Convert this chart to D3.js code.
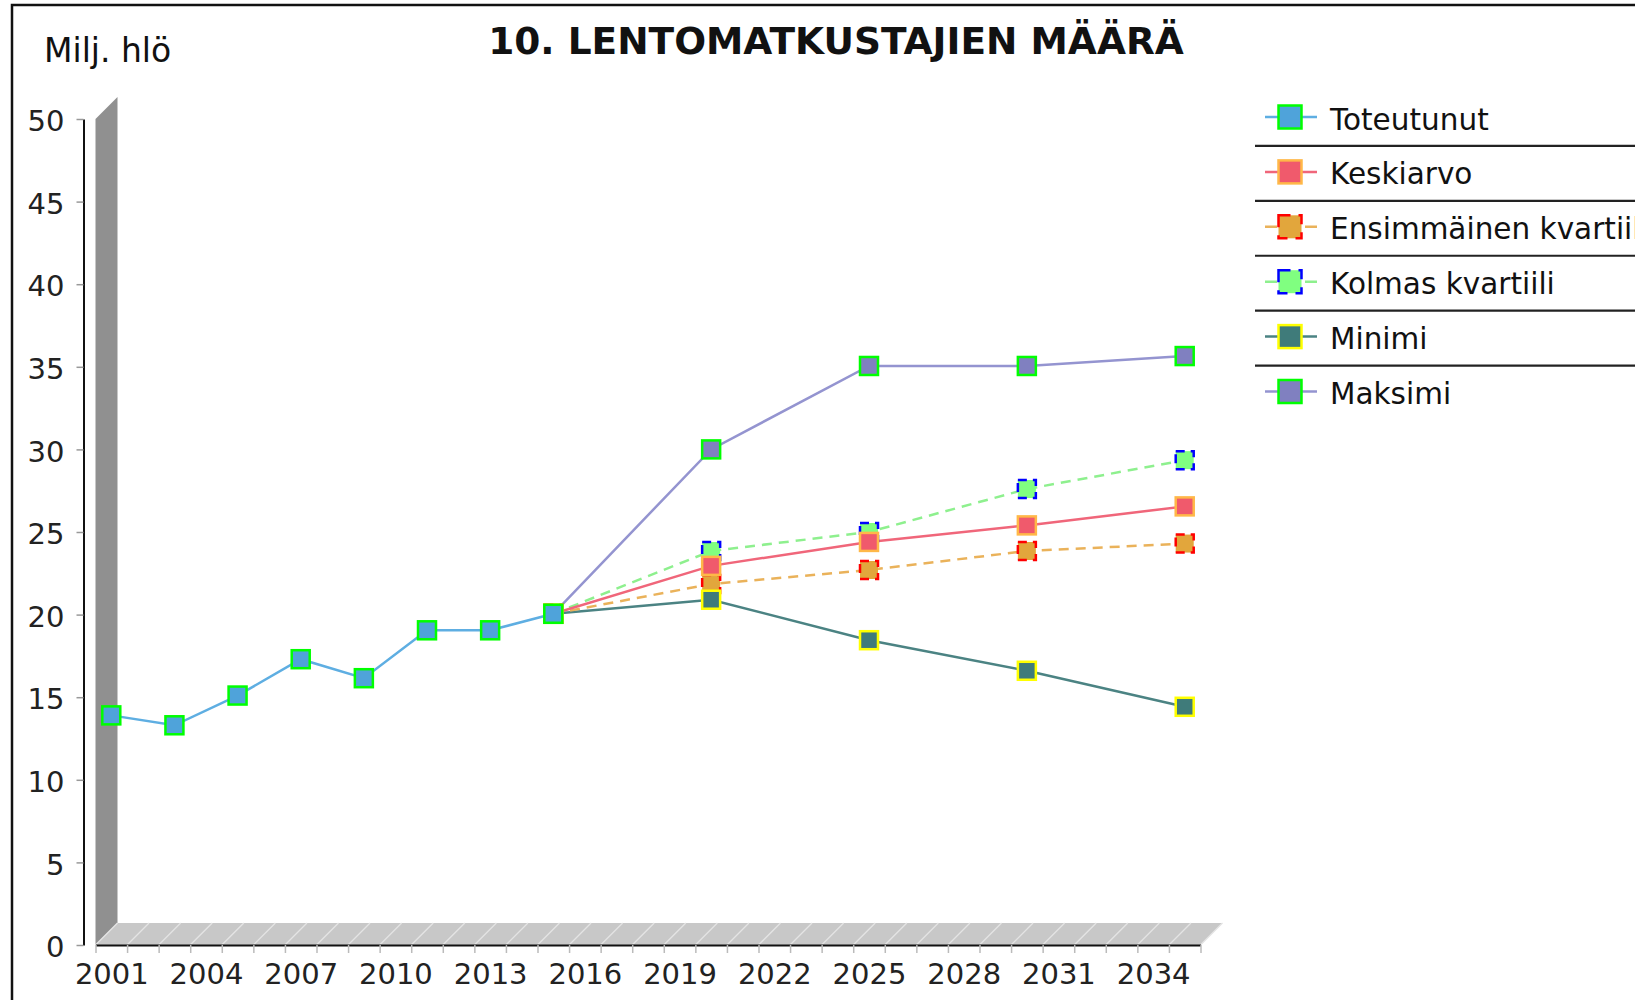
<!DOCTYPE html>
<html><head><meta charset="utf-8">
<script src="https://cdn.jsdelivr.net/npm/d3@7"></script>
<style>
body{margin:0;background:#fff}
text{font-family:"DejaVu Sans",sans-serif}
</style>
</head><body>
<svg id="c" width="1635" height="1000"></svg>
<script>
// ---- data ----
const historyYears = [2001, 2003, 2005, 2007, 2009, 2011, 2013, 2015];
const toteutunut   = [13.9, 13.3, 15.1, 17.3, 16.15, 19.05, 19.05, 20.05];
const forecastYears = [2015, 2020, 2025, 2030, 2035];
const keskiarvo    = [20.05, 22.95, 24.4, 25.4, 26.55];
const ensimmainen  = [20.05, 21.85, 22.7, 23.85, 24.3];
const kolmas       = [20.05, 23.85, 25.0, 27.6, 29.35];
const minimi       = [20.05, 20.9, 18.45, 16.6, 14.42];
const maksimi      = [20.05, 30.0, 35.05, 35.05, 35.65];
const xTickLabels  = [2001, 2004, 2007, 2010, 2013, 2016, 2019, 2022, 2025, 2028, 2031, 2034];
const yTickValues  = [0, 5, 10, 15, 20, 25, 30, 35, 40, 45, 50];
const seriesNames  = ["Toteutunut", "Keskiarvo", "Ensimmäinen kvartiili", "Kolmas kvartiili", "Minimi", "Maksimi"];

const styles = {
  "Toteutunut":            {fill:"#4fa3da", stroke:"#00ff00", line:"#5eaee2", dash:null},
  "Keskiarvo":             {fill:"#f05a6c", stroke:"#ffb848", line:"#f0667a", dash:null},
  "Ensimmäinen kvartiili": {fill:"#e2a63c", stroke:"#ff0000", line:"#eab25a", dash:"10,7"},
  "Kolmas kvartiili":      {fill:"#80ff80", stroke:"#0000ff", line:"#8ef08e", dash:"10,7"},
  "Minimi":                {fill:"#3f7b7a", stroke:"#ffff00", line:"#4b8383", dash:null},
  "Maksimi":               {fill:"#8080c0", stroke:"#00ff00", line:"#9494d0", dash:null}
};
const seriesData = {
  "Toteutunut": historyYears.map((y,i)=>({year:y, v:toteutunut[i]})),
  "Keskiarvo": forecastYears.map((y,i)=>({year:y, v:keskiarvo[i]})),
  "Ensimmäinen kvartiili": forecastYears.map((y,i)=>({year:y, v:ensimmainen[i]})),
  "Kolmas kvartiili": forecastYears.map((y,i)=>({year:y, v:kolmas[i]})),
  "Minimi": forecastYears.map((y,i)=>({year:y, v:minimi[i]})),
  "Maksimi": forecastYears.map((y,i)=>({year:y, v:maksimi[i]}))
};

const svg = d3.select("#c");
svg.append("rect").attr("width",1635).attr("height",1000).attr("fill","#fff");
// outer border
svg.append("rect").attr("x",12).attr("y",5).attr("width",1700).attr("height",1100)
  .attr("fill","none").attr("stroke","#111").attr("stroke-width",2.5);

const x = d3.scaleLinear().domain([2000.5, 2035.5]).range([95.5, 1200.5]);
const y = d3.scaleLinear().domain([0, 50]).range([945, 119]);
const depth = 22;

// 3D wall
const x0 = x.range()[0], x1 = x.range()[1], yb = y(0), yt = y(50);
svg.append("path")
  .attr("d", `M${x0},${yb}L${x0},${yt}L${x0+depth},${yt-depth}L${x0+depth},${yb-depth}Z`)
  .attr("fill","#909090");
// 3D floor
svg.append("path")
  .attr("d", `M${x0},${yb}L${x1},${yb}L${x1+depth},${yb-depth}L${x0+depth},${yb-depth}Z`)
  .attr("fill","#c8c8c8");
const bounds = d3.range(2000.5, 2036, 1);
svg.append("g").selectAll("line").data(bounds).join("line")
  .attr("x1", d=>x(d)).attr("y1", yb).attr("x2", d=>x(d)+depth).attr("y2", yb-depth)
  .attr("stroke","#e4e4e4").attr("stroke-width",1.3);

// y axis
const yAxis = d3.axisLeft(y).tickValues(yTickValues).tickSize(7).tickSizeOuter(0).tickPadding(12);
const gy = svg.append("g").attr("transform","translate(83.5,0)").call(yAxis);
gy.select(".domain").attr("stroke","#111").attr("stroke-width",2);
gy.selectAll(".tick line").attr("stroke","#999").attr("stroke-width",1.5);
gy.selectAll(".tick text").attr("font-size",29).attr("fill","#222")
  .attr("font-family","DejaVu Sans").attr("dy","0.4em");

// x axis ticks at category boundaries
const xAxisTicks = d3.axisBottom(x).tickValues(bounds).tickFormat("").tickSize(8).tickSizeOuter(0);
const gx = svg.append("g").attr("transform",`translate(0,${yb})`).call(xAxisTicks);
gx.select(".domain").attr("stroke","#111").attr("stroke-width",2);
gx.selectAll(".tick line").attr("stroke","#bbb").attr("stroke-width",1.5);
// x labels at category centres
const xAxisLabels = d3.axisBottom(x).tickValues(xTickLabels).tickFormat(d3.format("d")).tickSize(0).tickPadding(18);
const gx2 = svg.append("g").attr("transform",`translate(0,${yb})`).call(xAxisLabels);
gx2.select(".domain").remove();
gx2.selectAll(".tick text").attr("font-size",29).attr("fill","#222").attr("font-family","DejaVu Sans");

// titles
svg.append("text").attr("x",836).attr("y",54).attr("text-anchor","middle")
  .attr("font-size",37.5).attr("font-weight","bold").attr("fill","#111")
  .text("10. LENTOMATKUSTAJIEN MÄÄRÄ");
svg.append("text").attr("x",44).attr("y",62).attr("font-size",33).attr("fill","#111")
  .text("Milj. hlö");

// lines
const line = d3.line().x(d=>x(d.year)).y(d=>y(d.v));
const lineOrder = ["Maksimi","Minimi","Kolmas kvartiili","Ensimmäinen kvartiili","Keskiarvo","Toteutunut"];
lineOrder.forEach(n=>{
  const s = styles[n];
  svg.append("path").datum(seriesData[n]).attr("d",line)
    .attr("fill","none").attr("stroke",s.line).attr("stroke-width",2.5)
    .attr("stroke-dasharray", s.dash);
});
// markers
const ms = 18;
const markerOrder = ["Maksimi","Kolmas kvartiili","Ensimmäinen kvartiili","Keskiarvo","Minimi","Toteutunut"];
markerOrder.forEach(n=>{
  const s = styles[n];
  svg.append("g").selectAll("rect").data(seriesData[n]).join("rect")
    .attr("x", d=>x(d.year)-ms/2).attr("y", d=>y(d.v)-ms/2)
    .attr("width",ms).attr("height",ms)
    .attr("fill",s.fill).attr("stroke",s.stroke).attr("stroke-width",2.5)
    .attr("stroke-dasharray", s.dash ? "9,6" : null);
});

// legend
const lg = svg.append("g");
const ly0 = 117, lstep = 54.9;
seriesNames.forEach((n,i)=>{
  const s = styles[n];
  const cy = ly0 + i*lstep;
  lg.append("line").attr("x1",1265).attr("x2",1317).attr("y1",cy).attr("y2",cy)
    .attr("stroke",s.line).attr("stroke-width",2.5).attr("stroke-dasharray", s.dash ? "12,8" : null);
  lg.append("rect").attr("x",1290-11.5).attr("y",cy-11.5).attr("width",23).attr("height",23)
    .attr("fill",s.fill).attr("stroke",s.stroke).attr("stroke-width",2.5)
    .attr("stroke-dasharray", s.dash ? "12,8" : null);
  lg.append("text").attr("x",1330).attr("y",cy+12.5).attr("font-size",29.5).attr("fill","#111").text(n);
  if (i < seriesNames.length-1) {
    lg.append("line").attr("x1",1255).attr("x2",1640).attr("y1",cy+lstep/2+1.5).attr("y2",cy+lstep/2+1.5)
      .attr("stroke","#222").attr("stroke-width",2.2);
  }
});
</script>
</body></html>
